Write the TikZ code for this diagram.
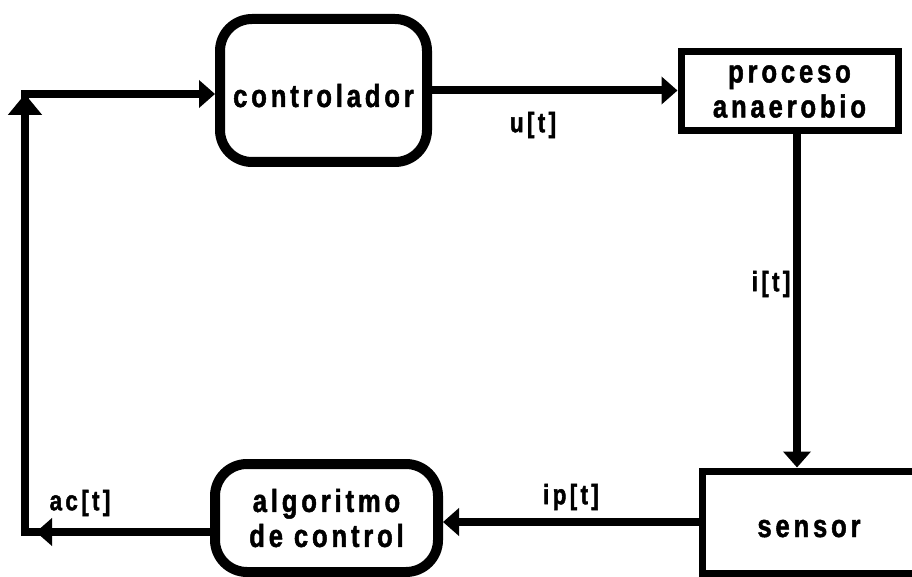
\documentclass[tikz,border=0pt]{standalone}
\usepackage{fontspec}
\newfontfamily\diagfont{Liberation Sans}[FakeStretch=0.8,LetterSpace=12,FakeBold=1.5]
\usetikzlibrary{arrows.meta}
\begin{document}
\begin{tikzpicture}[x=1pt,y=-1pt,
  blk/.style={draw, line width=7pt, inner sep=0pt, align=center,
    font=\diagfont\bfseries\fontsize{32}{35}\selectfont},
  rblk/.style={blk, rounded corners=32pt, line width=10pt},
  conn/.style={line width=8pt},
  tip/.style={-{Triangle[length=16pt,width=27pt]}},
  uptip/.style={-{Triangle[length=21pt,width=33pt]}},
  lbl/.style={inner sep=0pt, font=\diagfont\bfseries\fontsize{28}{32}\selectfont}]
\useasboundingbox (0,0) rectangle (912,577);
\clip (0,0) rectangle (912,577);

% blocks
\node[rblk, minimum width=207pt, minimum height=143pt, text height=33pt, text depth=0pt]
  (ctrl) at (323.5,90.5) {controlador};
\node[blk, minimum width=217pt, minimum height=79pt]
  (proc) at (789.5,91.5) {proceso\\anaerobio};
\node[blk, minimum width=214pt, minimum height=102pt, text height=30pt, text depth=0pt]
  (sens) at (809,522) {sensor};
\node[rblk, minimum width=223pt, minimum height=108pt]
  (alg) at (326.5,518) {algoritmo\\de control};

% feedback corners
\coordinate (fbt) at (25,94);
\coordinate (fbl) at (25,532);
\coordinate (fbin) at (36,532);

% connectors
\draw[conn, tip] (ctrl.east) -- (proc.west |- ctrl.east);
\draw[conn, tip] ([xshift=7.5pt]proc.south) -- ([xshift=-12pt]sens.north);
\draw[conn, tip] (sens.west) -- (alg.east |- sens.west);
\draw[conn, line cap=rect] (alg.west |- fbl) -- (fbl) -- (fbt);
\draw[conn, tip] (alg.west |- fbl) -- (fbin);
\draw[conn, uptip] (fbl) -- (fbt);
\draw[conn, tip] ([xshift=-4pt]fbt) -- (ctrl.west |- fbt);

% signal labels
\node[lbl] (lu) at (533,125) {u[t]};
\node[lbl] (li) at (771,284) {i[t]};
\node[lbl] (lip) at (571,497) {ip[t]};
\node[lbl] (lac) at (80,503) {ac[t]};
\end{tikzpicture}
\end{document}
